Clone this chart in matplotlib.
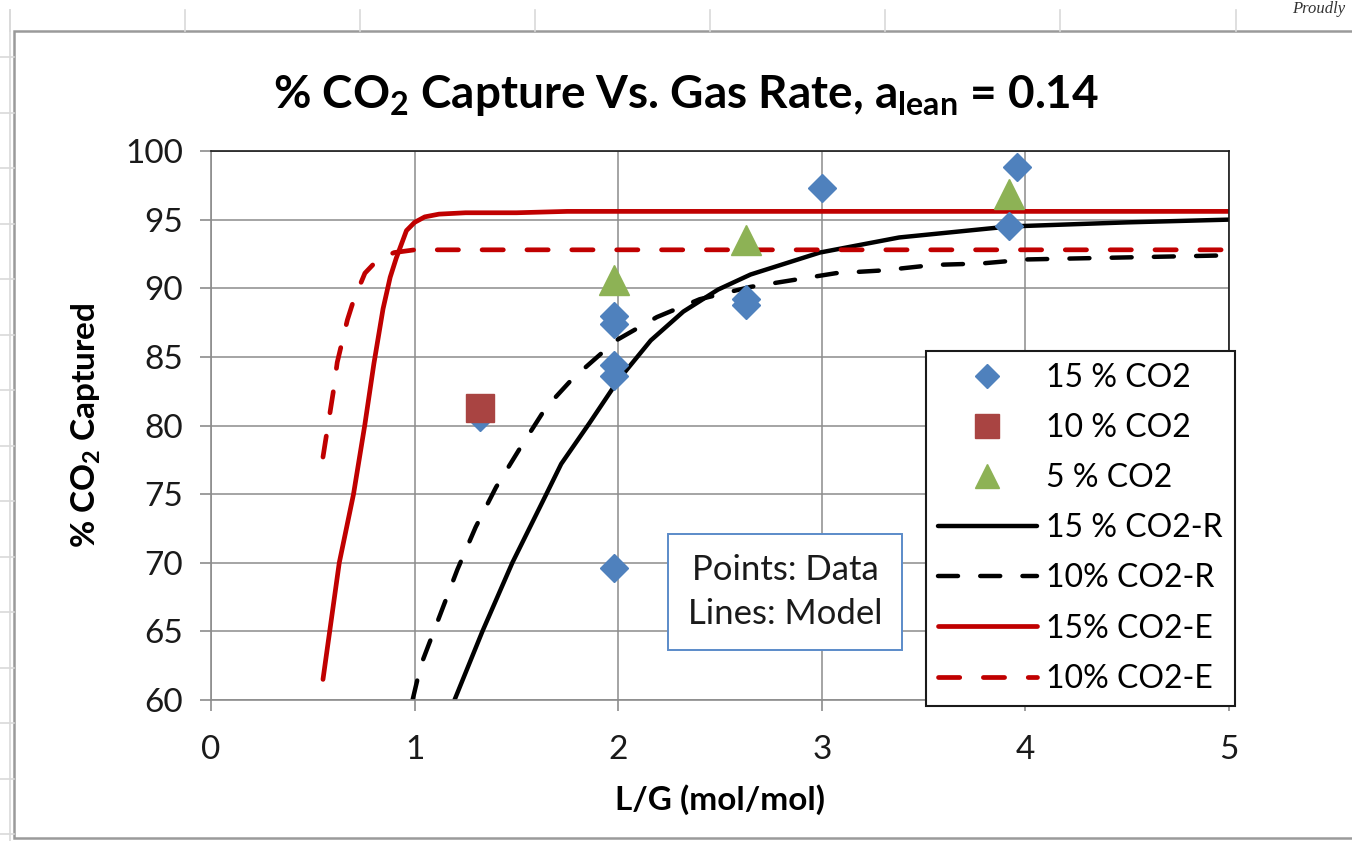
import matplotlib
matplotlib.use("Agg")
import matplotlib.pyplot as plt
from matplotlib.patches import Rectangle
from matplotlib.lines import Line2D

plt.rcParams['font.family'] = ['Lato', 'DejaVu Sans']
plt.rcParams['mathtext.default'] = 'regular'

# ---------------- data ----------------
x_15 = [1.32, 1.98, 1.98, 1.98, 1.98, 1.98, 2.63, 2.63, 3.00, 3.92, 3.96]
y_15 = [80.6, 88.0, 87.4, 84.4, 83.6, 69.6, 89.2, 88.8, 97.3, 94.5, 98.8]
x_10 = [1.32]
y_10 = [81.3]
x_5 = [1.98, 2.63, 3.92]
y_5 = [90.6, 93.5, 96.9]

r15_x = [1.196, 1.333, 1.48, 1.647, 1.72, 1.86, 2.00, 2.16, 2.32, 2.49, 2.65, 2.99, 3.38, 3.92, 4.50, 5.00]
r15_y = [60.0, 65.0, 70.0, 75.0, 77.2, 80.2, 83.3, 86.2, 88.3, 89.9, 91.0, 92.6, 93.7, 94.5, 94.8, 95.0]

r10_x = [0.99, 1.03, 1.12, 1.21, 1.30, 1.40, 1.52, 1.645, 1.775, 1.99, 2.19, 2.40, 2.65, 2.86, 3.07, 3.30, 3.55, 3.78, 4.01, 5.00]
r10_y = [60.0, 62.5, 66.0, 69.5, 72.6, 75.5, 78.4, 81.3, 83.4, 86.2, 87.9, 89.2, 90.1, 90.6, 91.1, 91.3, 91.7, 91.8, 92.1, 92.4]

e15_x = [0.55, 0.63, 0.70, 0.755, 0.80, 0.845, 0.88, 0.91, 0.96, 1.00, 1.05, 1.12, 1.25, 1.50, 1.75, 5.00]
e15_y = [61.5, 70.0, 75.0, 80.0, 84.5, 88.5, 90.8, 92.2, 94.2, 94.8, 95.2, 95.4, 95.5, 95.5, 95.6, 95.6]

e10_x = [0.55, 0.60, 0.62, 0.67, 0.70, 0.756, 0.82, 0.90, 1.00, 5.00]
e10_y = [77.7, 82.4, 84.6, 87.7, 89.1, 91.1, 92.1, 92.6, 92.8, 92.8]

x_ticks = [0, 1, 2, 3, 4, 5]
y_ticks = [60, 65, 70, 75, 80, 85, 90, 95, 100]

# ---------------- figure ----------------
W, H = 1352, 841
fig = plt.figure(figsize=(W / 100, H / 100), dpi=100)
fig.patch.set_facecolor('white')

def fx(px):
    return px / W

def fy(py):
    return 1 - py / H

# spreadsheet background cells (decoration)
cell_col = '#D9D9D9'
for px in [10, 185, 360, 535, 710, 885, 1060, 1236]:
    fig.add_artist(Line2D([fx(px), fx(px)], [fy(10), fy(31)], color=cell_col, lw=1.2))
fig.add_artist(Line2D([fx(10), fx(10)], [fy(10), fy(841)], color=cell_col, lw=1.2))
for i in range(15):
    py = 57 + i * 55.5
    fig.add_artist(Line2D([fx(0), fx(14)], [fy(py), fy(py)], color=cell_col, lw=1.2))
fig.text(fx(1292), fy(9), 'Proudly', fontsize=12, style='italic',
         family=['Liberation Serif', 'DejaVu Serif'], color='#333333', va='center', ha='left')

# chart area border
fig.add_artist(Rectangle((fx(14), fy(838)), fx(1400) - fx(14), fy(31) - fy(838),
                         fill=True, facecolor='white', edgecolor='#9A9A9A', lw=1.8,
                         transform=fig.transFigure, zorder=0))

ax = fig.add_axes([fx(211), fy(700), fx(1229) - fx(211), fy(151) - fy(700)])
ax.set_xlim(0, 5)
ax.set_ylim(60, 100)
ax.set_xticks(x_ticks)
ax.set_yticks(y_ticks)
ax.grid(True, color='#8C8C8C', lw=1.1, zorder=0)
ax.set_axisbelow(True)
for s in ['left', 'bottom']:
    ax.spines[s].set_color('#8C8C8C')
    ax.spines[s].set_linewidth(1.2)
for s in ['top', 'right']:
    ax.spines[s].set_color('#1a1a1a')
    ax.spines[s].set_linewidth(1.2)
ax.tick_params(axis='both', direction='out', length=8, width=1.2, color='#8C8C8C',
               labelsize=24, labelcolor='#1a1a1a')
ax.tick_params(axis='y', pad=12)
ax.tick_params(axis='x', pad=17)

red = '#C00000'
ax.plot(r15_x, r15_y, color='black', lw=3.2, label='15 % CO2-R', zorder=2,
        solid_capstyle='round', solid_joinstyle='round')
ax.plot(r10_x, r10_y, color='black', lw=3.2, label='10% CO2-R', zorder=2,
        dashes=(4.5, 5), dash_capstyle='round')
ax.plot(e15_x, e15_y, color=red, lw=3.4, label='15% CO2-E', zorder=2,
        solid_capstyle='round', solid_joinstyle='round')
ax.plot(e10_x, e10_y, color=red, lw=3.4, label='10% CO2-E', zorder=2,
        dashes=(4.5, 5), dash_capstyle='round')

ax.plot(x_15, y_15, linestyle='none', marker='D', markersize=14, color='#4F81BD',
        label='15 % CO2', zorder=3)
ax.plot(x_10, y_10, linestyle='none', marker='s', markersize=20, color='#A94442',
        markeredgecolor='#A94442', label='10 % CO2', zorder=3)
ax.plot(x_5, y_5, linestyle='none', marker='^', markersize=21, color='#8DB255',
        label='5 % CO2', zorder=3)

handles, labels = ax.get_legend_handles_labels()
order = [4, 5, 6, 0, 1, 2, 3]
leg = ax.legend([handles[i] for i in order], [labels[i] for i in order],
                loc='upper left', bbox_to_anchor=(0.702, 0.636), fontsize=23,
                frameon=True, fancybox=False, edgecolor='#1a1a1a', framealpha=1,
                handlelength=3.1, labelspacing=0.63, borderpad=0.38,
                handletextpad=0.3, borderaxespad=0, markerscale=0.85)
leg.get_frame().set_linewidth(1.5)
leg.set_zorder(5)

ax.text(0.564, 0.197, 'Points: Data\nLines: Model', transform=ax.transAxes,
        fontsize=25, ha='center', va='center', linespacing=1.45, color='#1a1a1a',
        bbox=dict(boxstyle='square,pad=0.58', facecolor='white', edgecolor='#5B8BC9', lw=1.4),
        zorder=6)

ax.set_xlabel('L/G (mol/mol)', fontsize=24, fontweight='bold', labelpad=14)
ax.set_ylabel('% CO$_2$ Captured', fontsize=24, fontweight='bold', labelpad=16)

fig.text(fx(686), fy(95), '% CO$_2$ Capture Vs. Gas Rate, a$_{lean}$ = 0.14',
         fontsize=33, fontweight='bold', ha='center', va='center')

fig.savefig('out.png', dpi=100)
